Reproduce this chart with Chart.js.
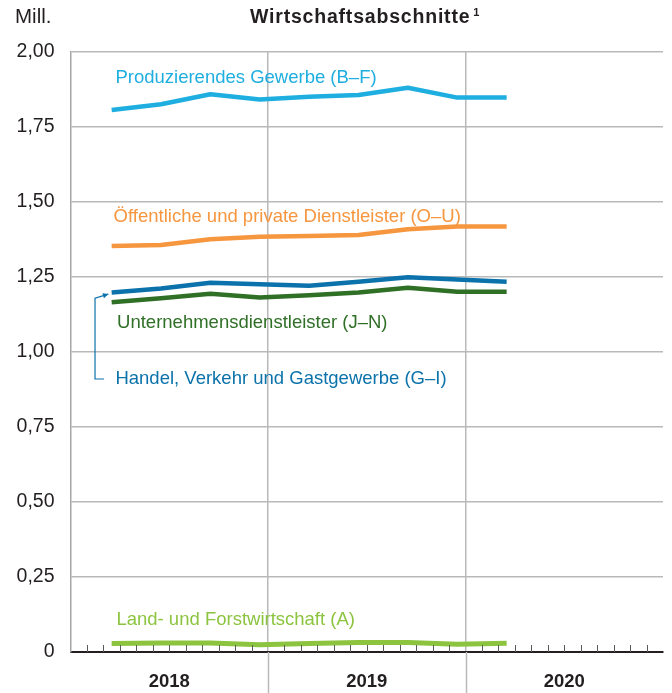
<!DOCTYPE html>
<html lang="de">
<head>
<meta charset="utf-8">
<script src="https://cdn.jsdelivr.net/npm/chart.js"></script>
<style>
  html, body { margin: 0; padding: 0; background: #fff; }
  #wrap { width: 672px; height: 693px; }
</style>
</head>
<body>
<div id="wrap"><canvas id="chart" width="672" height="693"></canvas></div>
<script>
// Quartale (Werte jeweils am Quartalsende)
const quarters = ['1/2018', '2/2018', '3/2018', '4/2018', '1/2019', '2/2019', '3/2019', '4/2019', '1/2020'];

// Erwerbstätige in Mill.
const produzierendes = [1.807, 1.826, 1.859, 1.842, 1.851, 1.857, 1.881, 1.848, 1.848];
const oeffentliche   = [1.353, 1.357, 1.376, 1.384, 1.387, 1.390, 1.409, 1.418, 1.418];
const handel         = [1.198, 1.212, 1.231, 1.226, 1.221, 1.234, 1.249, 1.242, 1.234];
const unternehmens   = [1.166, 1.179, 1.194, 1.182, 1.189, 1.198, 1.214, 1.201, 1.201];
const landForst      = [0.028, 0.030, 0.030, 0.024, 0.028, 0.032, 0.032, 0.026, 0.029];

const yTickLabels = ['0', '0,25', '0,50', '0,75', '1,00', '1,25', '1,50', '1,75', '2,00'];
const years = ['2018', '2019', '2020'];

const FONT = "'Liberation Sans', Arial, Helvetica, sans-serif";
const TEXT = '#231f20';
const GRID = '#b9b9b9';

// Monatsposition auf der x-Achse: Mitte des letzten Monats im Quartal
function quarterToMonth(q) {
  const [qn, year] = q.split('/').map(Number);
  return (year - 2018) * 12 + (qn - 1) * 3 + 2.5;
}

function toPoints(values) {
  return values.map((v, i) => ({ x: quarterToMonth(quarters[i]), y: v }));
}

const seriesLabels = [
  { text: 'Produzierendes Gewerbe (B–F)', color: '#1eaee0', x: 2.73, y: 1.898 },
  { text: 'Öffentliche und private Dienstleister (O–U)', color: '#f6963f', x: 2.62, y: 1.435 },
  { text: 'Unternehmensdienstleister (J–N)', color: '#2f6f26', x: 2.83, y: 1.081 },
  { text: 'Handel, Verkehr und Gastgewerbe (G–I)', color: '#0b72ab', x: 2.73, y: 0.892 },
  { text: 'Land- und Forstwirtschaft (A)', color: '#8cc43f', x: 2.79, y: 0.090 },
];

const decorations = {
  id: 'decorations',
  afterDatasetsDraw(chart) {
    const { ctx, chartArea } = chart;
    const xs = chart.scales.x;
    const ys = chart.scales.y;

    ctx.save();

    // Jahres-Trennlinien unterhalb der Achse verlängern
    ctx.strokeStyle = GRID;
    ctx.lineWidth = 1.5;
    [12, 24].forEach(m => {
      const px = Math.round(xs.getPixelForValue(m)) + 0.5;
      ctx.beginPath();
      ctx.moveTo(px, chartArea.bottom);
      ctx.lineTo(px, chart.height);
      ctx.stroke();
    });

    // Monats-Teilstriche nach innen
    ctx.strokeStyle = '#5a5a5a';
    ctx.lineWidth = 1;
    for (let m = 1; m < 36; m++) {
      if (m % 12 === 0) continue;
      const px = Math.round(xs.getPixelForValue(m)) + 0.5;
      ctx.beginPath();
      ctx.moveTo(px, chartArea.bottom);
      ctx.lineTo(px, chartArea.bottom - 7);
      ctx.stroke();
    }

    // Reihenbeschriftungen
    ctx.font = '18.5px ' + FONT;
    ctx.textAlign = 'left';
    ctx.textBaseline = 'alphabetic';
    seriesLabels.forEach(l => {
      ctx.fillStyle = l.color;
      ctx.fillText(l.text, xs.getPixelForValue(l.x), ys.getPixelForValue(l.y));
    });

    // Verbindungspfeil für Handel
    const c = '#0b72ab';
    ctx.strokeStyle = c;
    ctx.fillStyle = c;
    ctx.lineWidth = 1.2;
    const p1 = [xs.getPixelForValue(2.04), ys.getPixelForValue(0.910)];
    const p2 = [xs.getPixelForValue(1.49), ys.getPixelForValue(0.910)];
    const p3 = [xs.getPixelForValue(1.49), ys.getPixelForValue(1.179)];
    const tip = [xs.getPixelForValue(2.30), ys.getPixelForValue(1.193)];
    ctx.beginPath();
    ctx.moveTo(p1[0], p1[1]);
    ctx.lineTo(p2[0], p2[1]);
    ctx.lineTo(p3[0], p3[1]);
    ctx.lineTo(tip[0], tip[1]);
    ctx.stroke();
    const ang = Math.atan2(tip[1] - p3[1], tip[0] - p3[0]);
    ctx.beginPath();
    ctx.moveTo(tip[0], tip[1]);
    ctx.lineTo(tip[0] - 6 * Math.cos(ang - 0.45), tip[1] - 6 * Math.sin(ang - 0.45));
    ctx.lineTo(tip[0] - 6 * Math.cos(ang + 0.45), tip[1] - 6 * Math.sin(ang + 0.45));
    ctx.closePath();
    ctx.fill();

    // Einheit und Titel
    ctx.fillStyle = TEXT;
    ctx.font = '20.5px ' + FONT;
    ctx.fillText('Mill.', 15, 23);

    const title = 'Wirtschaftsabschnitte';
    ctx.font = 'bold 19.5px ' + FONT;
    ctx.letterSpacing = '0.8px';
    const tw = ctx.measureText(title).width;
    const tx = 250;
    ctx.fillText(title, tx, 23);
    ctx.letterSpacing = '0px';
    ctx.font = 'bold 11px ' + FONT;
    ctx.fillText('1', tx + tw + 3, 16);

    ctx.restore();
  }
};

const lineStyle = (color, width) => ({
  borderColor: color,
  backgroundColor: color,
  borderWidth: width,
  pointRadius: 0,
  tension: 0,
  fill: false,
  borderCapStyle: 'butt',
  borderJoinStyle: 'round',
});

new Chart(document.getElementById('chart'), {
  type: 'line',
  data: {
    datasets: [
      { label: 'Produzierendes Gewerbe (B–F)', data: toPoints(produzierendes), ...lineStyle('#1eaee0', 4.5) },
      { label: 'Öffentliche und private Dienstleister (O–U)', data: toPoints(oeffentliche), ...lineStyle('#f6963f', 4.5) },
      { label: 'Handel, Verkehr und Gastgewerbe (G–I)', data: toPoints(handel), ...lineStyle('#0b72ab', 4.5) },
      { label: 'Unternehmensdienstleister (J–N)', data: toPoints(unternehmens), ...lineStyle('#2f6f26', 4.5) },
      { label: 'Land- und Forstwirtschaft (A)', data: toPoints(landForst), ...lineStyle('#8cc43f', 5) },
    ],
  },
  options: {
    responsive: false,
    animation: false,
    layout: { padding: { top: 52, right: 9, left: 0, bottom: 0 } },
    plugins: {
      legend: { display: false },
      tooltip: { enabled: false },
    },
    scales: {
      x: {
        type: 'linear',
        min: 0,
        max: 36,
        afterFit: s => { s.height = 41; s.paddingLeft = 0; s.paddingRight = 0; },
        afterBuildTicks: s => {
          s.ticks = [];
          for (let m = 0; m <= 36; m++) s.ticks.push({ value: m });
        },
        grid: {
          color: ctx => (ctx.tick && (ctx.tick.value === 12 || ctx.tick.value === 24)) ? GRID : 'rgba(0,0,0,0)',
          lineWidth: 1.5,
          drawTicks: false,
        },
        border: { color: TEXT, width: 2 },
        ticks: {
          autoSkip: false,
          maxRotation: 0,
          padding: 19,
          color: TEXT,
          font: { family: FONT, size: 18.5, weight: 'bold' },
          callback: v => (v % 12 === 6 ? years[(v - 6) / 12] : ''),
        },
      },
      y: {
        min: 0,
        max: 2,
        afterFit: s => { s.width = 70.5; s.paddingTop = 0; s.paddingBottom = 0; },
        afterBuildTicks: s => {
          s.ticks = yTickLabels.map((_, i) => ({ value: i * 0.25 }));
        },
        grid: { color: GRID, lineWidth: 1.5, drawTicks: false },
        border: { color: '#a6a6a6', width: 1.5 },
        ticks: {
          padding: 16,
          color: TEXT,
          font: { family: FONT, size: 19.5 },
          callback: (v, i) => yTickLabels[i],
        },
      },
    },
  },
  plugins: [decorations],
});
</script>
</body>
</html>
